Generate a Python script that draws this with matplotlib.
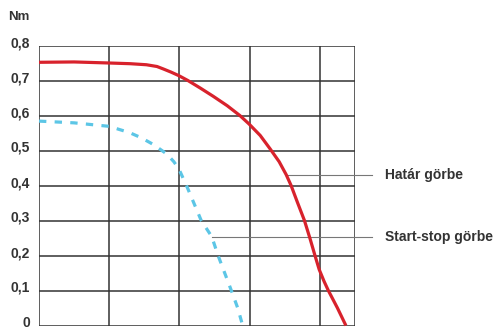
import matplotlib
matplotlib.use("Agg")
import matplotlib.pyplot as plt
import matplotlib.transforms as mtransforms

# curve readings (x in grid units, y in Nm)
limit_x = [0, 0.5, 1.0, 1.3, 1.53, 1.68, 1.77, 1.88, 1.99, 2.12, 2.3, 2.48, 2.68, 2.86, 2.99, 3.15, 3.29, 3.42, 3.52, 3.59, 3.68, 3.78, 3.86, 3.93, 3.99, 4.06, 4.12, 4.25, 4.37]
limit_y = [0.752, 0.753, 0.750, 0.748, 0.745, 0.740, 0.733, 0.724, 0.714, 0.700, 0.678, 0.655, 0.628, 0.600, 0.576, 0.543, 0.505, 0.468, 0.431, 0.400, 0.352, 0.300, 0.248, 0.200, 0.160, 0.126, 0.100, 0.050, 0.0]

startstop_x = [0, 0.5, 1.0, 1.29, 1.45, 1.63, 1.82, 1.92, 1.99, 2.1, 2.31, 2.46, 2.55, 2.72, 2.83, 2.9]
startstop_y = [0.584, 0.579, 0.569, 0.551, 0.537, 0.517, 0.490, 0.468, 0.448, 0.400, 0.300, 0.254, 0.200, 0.110, 0.050, 0.0]

y_ticks = [0, 0.1, 0.2, 0.3, 0.4, 0.5, 0.6, 0.7, 0.8]
y_labels = ["0", "0,1", "0,2", "0,3", "0,4", "0,5", "0,6", "0,7", "0,8"]
x_grid = [0, 1, 2, 3, 4, 4.5]

labels = ["Határ görbe", "Start-stop görbe"]
label_from = [(3.52, 0.431), (2.46, 0.254)]

plt.rcParams['font.family'] = ['Liberation Sans', 'DejaVu Sans']
txt = '#333333'

fig = plt.figure(figsize=(5.01, 3.29), dpi=100)
ax = fig.add_axes([39 / 501, 3.5 / 329, 316 / 501, 280 / 329])

ax.set_xlim(0, 4.5)
ax.set_ylim(0, 0.8)
for x in x_grid:
    ax.axvline(x, color='#333333', lw=1.1, zorder=1)
for y in y_ticks:
    ax.axhline(y, color='#333333', lw=1.1, zorder=1)
for s in ax.spines.values():
    s.set_visible(False)

ax.set_xticks([])
ax.set_yticks(y_ticks)
ax.set_yticklabels(y_labels, fontsize=10, fontweight='bold', color=txt)
ax.tick_params(axis='y', length=0, pad=6.5)
# labels sit a little above their grid lines
shift = mtransforms.ScaledTranslation(0, 4 / 100, fig.dpi_scale_trans)
for lbl in ax.get_yticklabels():
    lbl.set_transform(lbl.get_transform() + shift)

ax.plot(limit_x, limit_y, color='#d8222c', lw=2.3, zorder=3, clip_on=False,
        solid_capstyle='butt', solid_joinstyle='round')
ax.plot(startstop_x, startstop_y, color='#5cc6e6', lw=2.3, zorder=3, clip_on=False,
        dashes=(2.3, 2.6))

fig.text(8 / 501, 1 - 17 / 329, "Nm", fontsize=9.5, fontweight='bold', color=txt,
         va='center', ha='left')

for lab, (px, py) in zip(labels, label_from):
    ax.plot([px, 4.74], [py, py], color='#777777', lw=0.8, zorder=2, clip_on=False)
    ax.text(4.93, py, lab, fontsize=10, fontweight='bold', color=txt,
            va='center', ha='left', clip_on=False)

fig.savefig("out.png", dpi=100)
